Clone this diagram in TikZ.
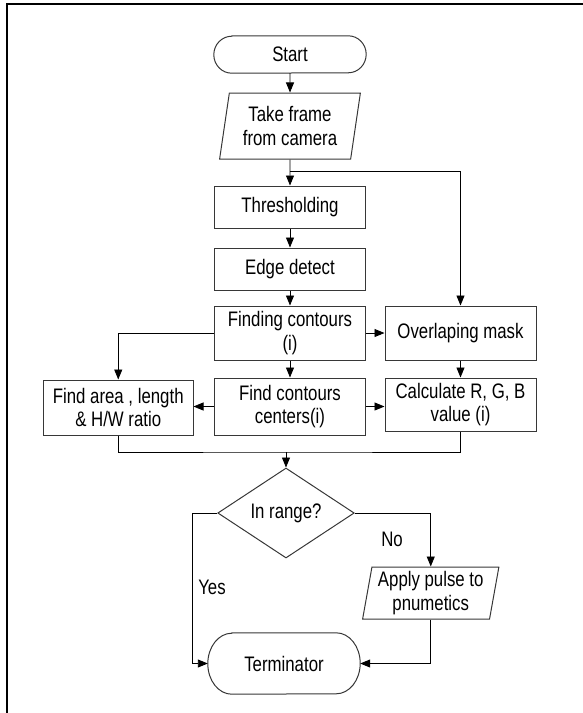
\documentclass[tikz,border=0pt]{standalone}
\usepackage{fontspec}
\setmainfont[FakeStretch=0.8]{Liberation Sans}
\usetikzlibrary{shapes.geometric,arrows.meta}
\definecolor{boxgray}{RGB}{55,55,55}
\newcommand\termpath[3]{\draw[draw=boxgray,line width=1pt] ([xshift=#2]#1.north west) -- ([xshift=-#2]#1.north east) arc[start angle=90,end angle=-90,x radius=#2,y radius=#3] -- ([xshift=#2]#1.south west) arc[start angle=270,end angle=90,x radius=#2,y radius=#3] -- cycle;}
\begin{document}
\begin{tikzpicture}[x=1pt,y=-1pt,
  font=\fontsize{21}{23.5}\selectfont,
  box/.style={draw=boxgray,line width=1pt,rectangle,inner sep=0pt,align=center},
  ghost/.style={rectangle,inner sep=0pt,align=center},
  io/.style={draw=boxgray,line width=1pt,trapezium,trapezium left angle=79,trapezium right angle=101,trapezium stretches=true,inner sep=0pt,align=center},
  decision/.style={draw=boxgray,line width=1pt,diamond,inner sep=0pt},
  conn/.style={draw=black,line width=0.9pt},
  arr/.style={conn,-{Triangle[length=10pt,width=8pt]}},
  lbl/.style={inner sep=0pt}
]
\useasboundingbox (0,0) rectangle (583,713);
% page frame
\draw[line width=2pt] (6.7,713) -- (6.7,4.3) -- (583,4.3);

\node[ghost,minimum width=152pt,minimum height=37pt] (start) at (290,54.5) {Start};
\termpath{start}{18pt}{18.5pt}
\node[io,minimum width=141pt,minimum height=66pt] (frame) at (290,126) {Take frame\\from camera};
\node[box,minimum width=151pt,minimum height=42pt] (thr) at (290,207) {Thresholding};
\node[box,minimum width=151pt,minimum height=42pt] (edge) at (290,269) {Edge detect};
\node[box,minimum width=151pt,minimum height=54pt] (find) at (290,333) {Finding contours\\(i)};
\node[box,minimum width=151pt,minimum height=54pt] (mask) at (460.5,333) {Overlaping mask};
\node[box,minimum width=151pt,minimum height=57pt] (cent) at (290,406.5) {Find contours\\centers(i)};
\node[box,minimum width=151pt,minimum height=53pt] (rgb) at (460.5,404.5) {Calculate R, G, B\\value (i)};
\node[box,minimum width=149.5pt,minimum height=55pt] (area) at (118.25,407.5) {Find area , length\\\& H/W ratio};
\node[decision,minimum width=136.5pt,minimum height=82pt] (dec) at (286,513) {In range?};
\node[io,minimum width=136.5pt,minimum height=52pt] (pulse) at (430.75,593) {Apply pulse to\\pnumetics};
\node[ghost,minimum width=152pt,minimum height=61pt] (term) at (284,663.5) {Terminator};
\termpath{term}{24pt}{30.5pt}

\node[lbl] (yes) at (212,587) {Yes};
\node[lbl] (no) at (392,539) {No};

\coordinate (b1) at (290,171);
\coordinate (m) at (286,452);
\coordinate (yl) at (192.6,513);

\draw[arr] (start) -- (frame);
\draw[arr] (frame) -- (thr);
\draw[arr] (b1) -| (mask.north);
\draw[arr] (thr) -- (edge);
\draw[arr] (edge) -- (find);
\draw[arr] (find) -- (mask);
\draw[arr] (find.west) -| (area.north);
\draw[arr] (find) -- (cent);
\draw[arr] (cent.west) -- (cent.west -| area.east);
\draw[arr] (cent.east) -- (cent.east -| rgb.west);
\draw[arr] (mask) -- (rgb);
\draw[conn] (area.south) |- (m) -| (rgb.south);
\draw[arr] (m) -- (dec.north);
\draw[arr] (dec.west) -- (yl) |- (term.west);
\draw[arr] (dec.east) -| (pulse.north);
\draw[arr] (pulse.south) |- (term.east);
\end{tikzpicture}
\end{document}
